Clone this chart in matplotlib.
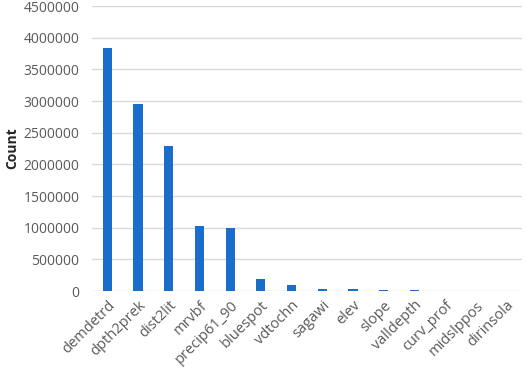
import matplotlib
matplotlib.use('Agg')
import matplotlib.pyplot as plt

plt.rcParams['font.family'] = ['Open Sans', 'DejaVu Sans']

# variables and counts
variables = ['demdetrd', 'dpth2prek', 'dist2lit', 'mrvbf', 'precip61_90', 'bluespot',
             'vdtochn', 'sagawi', 'elev', 'slope', 'valldepth', 'curv_prof',
             'midslppos', 'dirinsola']
counts = [3840000, 2950000, 2290000, 1030000, 1000000, 190000,
          95000, 35000, 32000, 15000, 15000, 2000, 1000, 500]

fig = plt.figure(figsize=(5.26, 3.70), dpi=100)
ax = fig.add_axes([0.175, 0.2135, 0.817, 0.770])

x = range(len(variables))
ax.bar(x, counts, width=0.3, color='#1b6dcc', zorder=3)

ax.set_xlim(-0.5, len(variables) - 0.5)
ax.set_ylim(0, 4500000)
ax.set_yticks(range(0, 4500001, 500000))
ax.set_yticklabels([str(v) for v in range(0, 4500001, 500000)])
ax.set_xticks(list(x))
ax.set_xticklabels(variables, rotation=45, ha='right', rotation_mode='anchor')

ax.grid(axis='y', color='#d9d9d9', linewidth=1, zorder=0)
for s in ['top', 'right', 'left', 'bottom']:
    ax.spines[s].set_visible(False)
ax.tick_params(length=0, labelsize=10.5, labelcolor='#595959')
ax.tick_params(axis='y', labelsize=10, pad=9)
ax.tick_params(axis='x', pad=5)
ax.set_ylabel('Count', fontsize=10, fontweight='bold', color='#262626')
ax.yaxis.set_label_coords(-0.17, 0.5)

fig.savefig('out.png', dpi=100)
